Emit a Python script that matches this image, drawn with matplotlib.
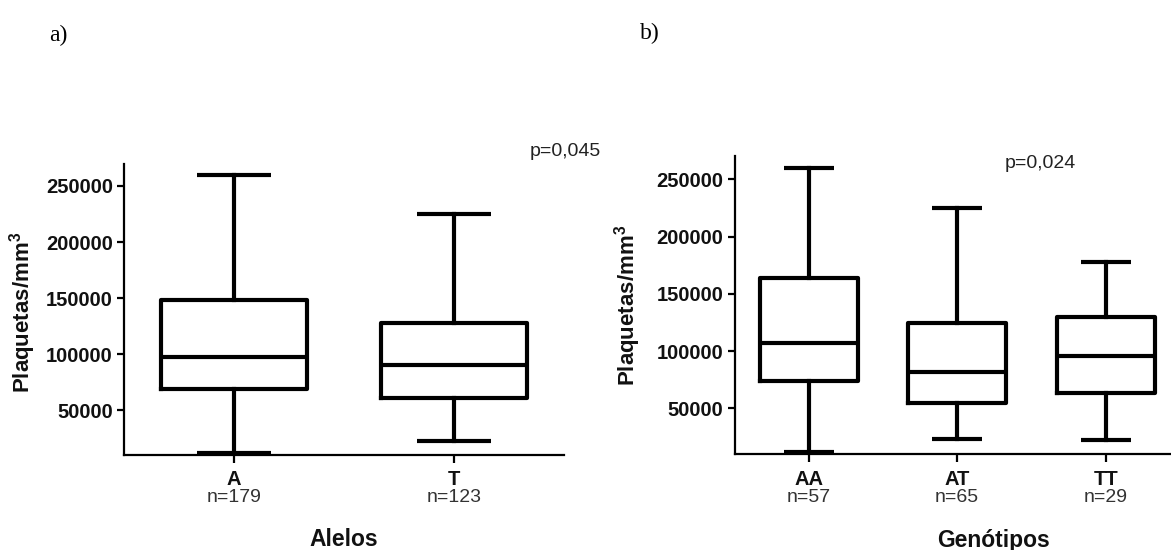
import matplotlib
matplotlib.use("Agg")
import matplotlib.pyplot as plt
from matplotlib.transforms import blended_transform_factory

# ---- data ----
alelos = ["A", "T"]
alelos_n = ["n=179", "n=123"]
alelos_min = [12000, 22000]
alelos_q1 = [68500, 61000]
alelos_med = [97500, 90000]
alelos_q3 = [148000, 128000]
alelos_max = [260000, 225000]

genotipos = ["AA", "AT", "TT"]
genotipos_n = ["n=57", "n=65", "n=29"]
genotipos_min = [12000, 23000, 22500]
genotipos_q1 = [74000, 54500, 63500]
genotipos_med = [107000, 81500, 95500]
genotipos_q3 = [164000, 124500, 129500]
genotipos_max = [260000, 225000, 178000]

yticks = [50000, 100000, 150000, 200000, 250000]
p_left = "p=0,045"
p_right = "p=0,024"

plt.rcParams['font.family'] = ['Liberation Sans', 'DejaVu Sans']

W, H = 1171, 550
fig = plt.figure(figsize=(W / 100, H / 100), dpi=100)
fig.patch.set_facecolor("white")

LW = 3.0


def px_axes(x0, x1, ytop, ybot):
    return [x0 / W, 1 - ybot / H, (x1 - x0) / W, (ybot - ytop) / H]


def draw(ax, cats, ns, mn, q1, med, q3, mx, xlabel, xlabel_x):
    stats = []
    for c, a, b, m, d, e in zip(cats, mn, q1, med, q3, mx):
        stats.append(dict(label=c, whislo=a, q1=b, med=m, q3=d, whishi=e, fliers=[]))
    pos = list(range(1, len(cats) + 1))
    ax.bxp(stats, positions=pos, widths=0.66, capwidths=0.34, showfliers=False,
           boxprops=dict(color="black", linewidth=LW),
           whiskerprops=dict(color="black", linewidth=LW),
           capprops=dict(color="black", linewidth=LW, solid_capstyle="butt"),
           medianprops=dict(color="black", linewidth=LW))
    ax.set_xlim(0.5, len(cats) + 0.5)
    ax.set_ylim(10000, 270000)
    ax.set_yticks(yticks)
    ax.set_yticklabels([str(v) for v in yticks], fontsize=14.5, fontweight="bold",
                       color="#111111")
    ax.set_xticks(pos)
    ax.set_xticklabels(cats, fontsize=14.5, fontweight="bold", color="#111111")
    for s in ["top", "right"]:
        ax.spines[s].set_visible(False)
    for s in ["left", "bottom"]:
        ax.spines[s].set_linewidth(1.6)
    ax.tick_params(axis="y", width=1.6, length=5, pad=3)
    ax.tick_params(axis="x", width=1.6, length=6, pad=5)
    ax.set_ylabel("Plaquetas/mm$^\\mathregular{3}$", fontsize=16, fontweight="bold",
                  color="#111111")
    tr = blended_transform_factory(ax.transData, fig.transFigure)
    for p, n in zip(pos, ns):
        ax.text(p, 1 - 498 / H, n, transform=tr, ha="center", va="center",
                fontsize=14, color="#333333")
    fig.text(xlabel_x / W, 1 - 540 / H, xlabel, ha="center", va="center",
             fontsize=16.5, fontweight="bold", color="#111111")
    ax.set_facecolor("white")


ax1 = fig.add_axes(px_axes(124, 564, 163.6, 454.8))
draw(ax1, alelos, alelos_n, alelos_min, alelos_q1, alelos_med, alelos_q3, alelos_max, "Alelos", 344)
ax1.yaxis.set_label_coords(38 / W, 1 - 312 / H, transform=fig.transFigure)

ax2 = fig.add_axes(px_axes(734.5, 1180, 156.4, 454.3))
draw(ax2, genotipos, genotipos_n, genotipos_min, genotipos_q1, genotipos_med, genotipos_q3,
     genotipos_max, "Genótipos", 994)
ax2.yaxis.set_label_coords(643 / W, 1 - 305 / H, transform=fig.transFigure)

fig.text(565 / W, 1 - 152 / H, p_left, ha="center", va="center", fontsize=14,
         color="#222222")
fig.text(1040 / W, 1 - 163 / H, p_right, ha="center", va="center", fontsize=14,
         color="#222222")

fig.text(58 / W, 1 - 35 / H, "a)", ha="center", va="center", fontsize=17,
         family=["Liberation Serif", "DejaVu Serif"])
fig.text(650 / W, 1 - 33 / H, "b)", ha="center", va="center", fontsize=17,
         family=["Liberation Serif", "DejaVu Serif"])

fig.savefig("out.png", dpi=100, facecolor="white")
